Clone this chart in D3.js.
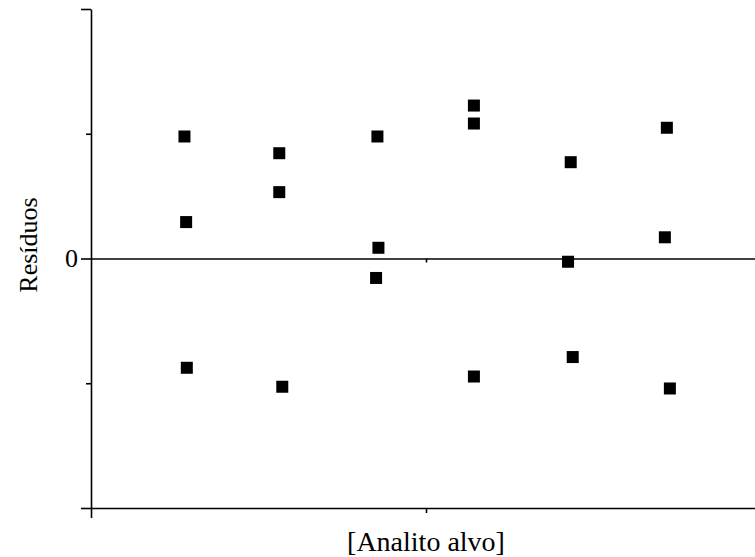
<!DOCTYPE html>
<html>
<head>
<meta charset="utf-8">
<script src="https://cdn.jsdelivr.net/npm/d3@7"></script>
<style>
  html, body { margin: 0; padding: 0; background: #fff; }
  svg { display: block; }
  .axis path, .axis line { stroke: #000; stroke-width: 1.6; }
  .axis text { font-family: "Liberation Serif", "Times New Roman", serif; font-size: 26px; fill: #000; }
  .label { font-family: "Liberation Serif", "Times New Roman", serif; fill: #000; }
</style>
</head>
<body>
<svg id="chart" width="755" height="557"></svg>
<script>
// Residuals for each replicate, grouped by concentration level
const concLevels = [0.28, 0.565, 0.855, 1.143, 1.432, 1.72];
const residualX = [
  [0.279, 0.284, 0.286],
  [0.562, 0.562, 0.571],
  [0.855, 0.858, 0.851],
  [1.143, 1.143, 1.143],
  [1.432, 1.424, 1.438],
  [1.719, 1.713, 1.728]
];
const residualY = [
  [0.489, 0.146, -0.438],
  [0.422, 0.266, -0.514],
  [0.489, 0.043, -0.078],
  [0.613, 0.541, -0.473],
  [0.386, -0.013, -0.395],
  [0.524, 0.085, -0.521]
];
const yMajorTicks = [-1, 0, 1];
const yMinorTicks = [-0.5, 0.5];
const xMajorTicks = [0, 2];
const xMinorTicks = [1];
const xTitle = "[Analito alvo]";
const yTitle = "Resíduos";

const points = [];
concLevels.forEach((c, i) => {
  residualY[i].forEach((r, j) => points.push({ level: c, x: residualX[i][j], y: r }));
});

const svg = d3.select("#chart");
const x = d3.scaleLinear().domain([0, 2]).range([91, 761]);
const y = d3.scaleLinear().domain([-1, 1]).range([508, 9]);

// Left axis: long ticks at -1, 0, 1 (only 0 labelled), short ticks between
svg.append("g").attr("class", "axis").attr("transform", `translate(${x(0)},0)`)
  .call(d3.axisLeft(y).tickValues(yMajorTicks).tickSize(10).tickSizeOuter(0)
    .tickFormat(d => d === 0 ? "0" : ""));
svg.append("g").attr("class", "axis").attr("transform", `translate(${x(0)},0)`)
  .call(d3.axisLeft(y).tickValues(yMinorTicks).tickSize(5).tickFormat(""))
  .select(".domain").remove();

// Bottom axis
svg.append("g").attr("class", "axis").attr("transform", `translate(0,${y(-1)})`)
  .call(d3.axisBottom(x).tickValues(xMajorTicks).tickSize(10).tickSizeOuter(0).tickFormat(""));
svg.append("g").attr("class", "axis").attr("transform", `translate(0,${y(-1)})`)
  .call(d3.axisBottom(x).tickValues(xMinorTicks).tickSize(5).tickFormat(""))
  .select(".domain").remove();

// Zero reference line
svg.append("g").attr("class", "axis").attr("transform", `translate(0,${y(0)})`)
  .call(d3.axisBottom(x).tickValues(xMinorTicks).tickSize(4).tickSizeOuter(0).tickFormat(""));

// Residual markers
const s = 12;
svg.append("g").selectAll("rect").data(points).join("rect")
  .attr("x", d => x(d.x) - s / 2)
  .attr("y", d => y(d.y) - s / 2)
  .attr("width", s).attr("height", s)
  .attr("fill", "#000");

// Axis titles
svg.append("text").attr("class", "label")
  .attr("x", x(1)).attr("y", 551)
  .attr("text-anchor", "middle").attr("font-size", 28)
  .text(xTitle);
svg.append("text").attr("class", "label")
  .attr("transform", `translate(37,${245}) rotate(-90)`)
  .attr("text-anchor", "middle").attr("font-size", 26)
  .text(yTitle);
</script>
</body>
</html>
